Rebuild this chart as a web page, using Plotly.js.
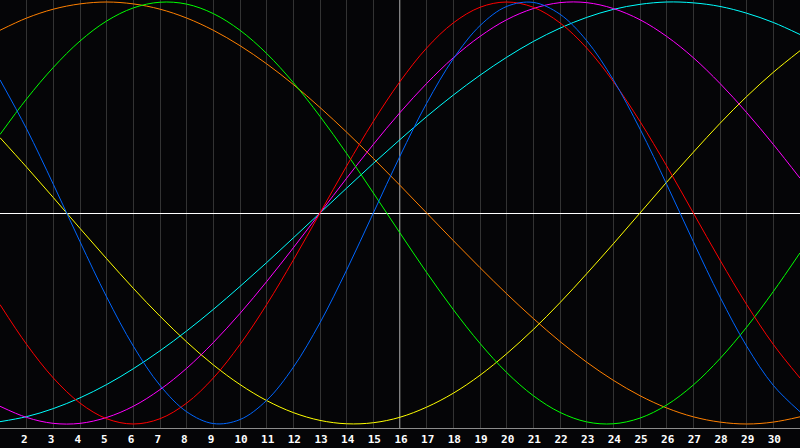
<!DOCTYPE html>
<html>
<head>
<meta charset="utf-8">
<script src="https://cdn.plot.ly/plotly-3.0.1.min.js"></script>
<style>
  html, body { margin: 0; padding: 0; background: #050507; }
  #bio { width: 800px; height: 448px; }
</style>
</head>
<body>
<div id="bio"></div>
<script>
var days = []
var d = 1
while (d <= 31) {
    days.push(d)
    d += 1
}

var tickdays = [2, 3, 4, 5, 6, 7, 8, 9, 10, 11, 12, 13, 14, 15, 16, 17, 18, 19, 20, 21, 22, 23, 24, 25, 26, 27, 28, 29, 30];
var ticklabels = ['2', '3', '4', '5', '6', '7', '8', '9', '10', '11', '12', '13', '14', '15', '16', '17', '18', '19', '20', '21', '22', '23', '24', '25', '26', '27', '28', '29', '30'];
var today = 16;

// values, one per day (1..31), -1 = bottom, 1 = top
var blue = [0.631, 0.398, 0.136, -0.136, -0.398, -0.631, -0.817, -0.942, -0.998, -0.979, -0.888, -0.731, -0.520, -0.270, 0.000, 0.270, 0.520, 0.731, 0.888, 0.979, 0.998, 0.942, 0.817, 0.631, 0.398, 0.136, -0.136, -0.398, -0.631, -0.817, -0.942];
var red = [-0.434, -0.623, -0.782, -0.901, -0.975, -1.000, -0.975, -0.901, -0.782, -0.623, -0.434, -0.223, 0.000, 0.223, 0.434, 0.623, 0.782, 0.901, 0.975, 1.000, 0.975, 0.901, 0.782, 0.623, 0.434, 0.223, 0.000, -0.223, -0.434, -0.623, -0.782];
var green = [0.372, 0.541, 0.690, 0.815, 0.910, 0.972, 0.999, 0.990, 0.945, 0.866, 0.756, 0.618, 0.458, 0.282, 0.095, -0.095, -0.282, -0.458, -0.618, -0.756, -0.866, -0.945, -0.990, -0.999, -0.972, -0.910, -0.815, -0.690, -0.541, -0.372, -0.189];
var magenta = [-0.916, -0.969, -0.997, -0.997, -0.969, -0.916, -0.837, -0.736, -0.614, -0.476, -0.325, -0.165, 0.000, 0.165, 0.325, 0.476, 0.614, 0.736, 0.837, 0.916, 0.969, 0.997, 0.997, 0.969, 0.916, 0.837, 0.736, 0.614, 0.476, 0.325, 0.165];
var yellow = [0.357, 0.217, 0.073, -0.073, -0.217, -0.357, -0.489, -0.611, -0.720, -0.813, -0.889, -0.946, -0.983, -0.999, -0.994, -0.968, -0.920, -0.854, -0.769, -0.667, -0.552, -0.425, -0.288, -0.146, 0.000, 0.146, 0.288, 0.425, 0.552, 0.667, 0.769];
var orange = [0.866, 0.924, 0.966, 0.991, 1.000, 0.991, 0.966, 0.924, 0.866, 0.793, 0.707, 0.609, 0.500, 0.383, 0.259, 0.131, 0.000, -0.131, -0.259, -0.383, -0.500, -0.609, -0.707, -0.793, -0.866, -0.924, -0.966, -0.991, -1.000, -0.991, -0.966];
var cyan = [-0.989, -0.965, -0.927, -0.876, -0.813, -0.738, -0.653, -0.559, -0.457, -0.348, -0.235, -0.118, 0.000, 0.118, 0.235, 0.348, 0.457, 0.559, 0.653, 0.738, 0.813, 0.876, 0.927, 0.965, 0.989, 1.000, 0.996, 0.979, 0.947, 0.903, 0.846];

// single digits sit a little left of their grid line in the original
var shownlabels = ticklabels.map(function (t) { return t.length == 1 ? t + '\u00a0' : t })

function curve(vals, col) {
    return {
        type: 'scatter',
        x: days,
        y: vals,
        mode: 'lines',
        hoverinfo: 'skip',
        line: {
            color: col,
            width: 1,
            shape: 'spline',
            smoothing: 1
        }
    };
}

var data = [
    curve(orange, 'rgb(255, 128, 0)'),
    curve(yellow, 'rgb(255, 255, 0)'),
    curve(cyan, 'rgb(0, 255, 255)'),
    curve(magenta, 'rgb(255, 0, 255)'),
    curve(green, 'rgb(0, 255, 0)'),
    curve(red, 'rgb(255, 0, 0)'),
    curve(blue, 'rgb(0, 102, 255)')
];

var layout = {
    width: 800,
    height: 448,
    margin: {l: 0, r: 0, t: 0, b: 20, pad: 0},
    paper_bgcolor: '#050507',
    plot_bgcolor: '#050507',
    showlegend: false,
    xaxis: {
        range: [1, 31],
        tickvals: tickdays,
        ticktext: shownlabels,
        ticks: '',
        ticklabelshift: 1,
        ticklabelstandoff: 1,
        showgrid: true,
        gridcolor: '#333333',
        gridwidth: 1,
        zeroline: false,
        showline: true,
        linecolor: '#8c8c8c',
        linewidth: 1,
        mirror: true,
        tickfont: {family: 'DejaVu Sans Mono', size: 11, color: '#ffffff', weight: 'bold'},
        fixedrange: true
    },
    yaxis: {
        range: [-1.019, 1.0095],
        showgrid: false,
        showticklabels: false,
        ticks: '',
        zeroline: true,
        zerolinecolor: '#ffffff',
        zerolinewidth: 1,
        showline: true,
        linecolor: '#8c8c8c',
        linewidth: 1,
        fixedrange: true
    },
    shapes: [{
        type: 'line',
        xref: 'x',
        yref: 'paper',
        x0: today,
        x1: today,
        y0: 0,
        y1: 1,
        layer: 'below',
        line: {color: '#ffffff', width: 1}
    }]
};

Plotly.newPlot('bio', data, layout, {displayModeBar: false, staticPlot: true});
</script>
</body>
</html>
